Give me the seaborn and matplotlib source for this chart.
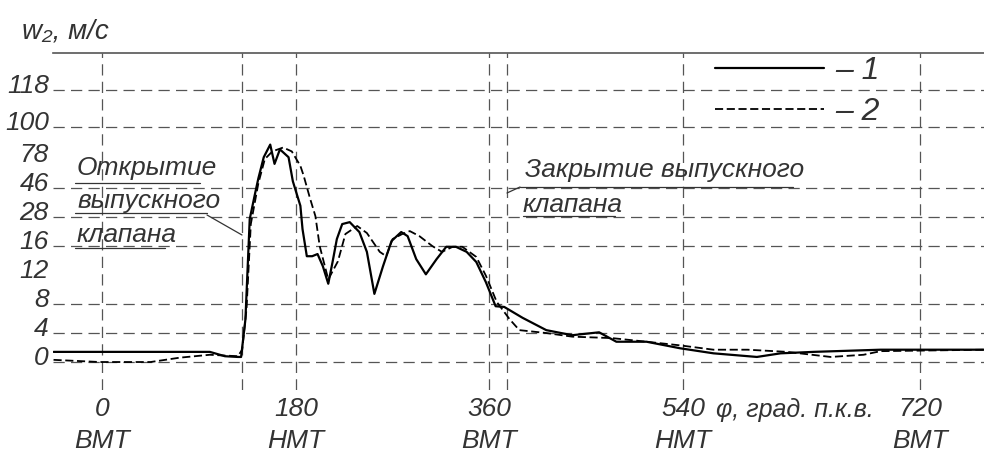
import numpy as np
import pandas as pd
import seaborn as sns
import matplotlib.pyplot as plt
from matplotlib.lines import Line2D
from matplotlib import transforms

# crank angle (deg) and exhaust gas velocity w2 (m/s)
angle_1 = [-45, -2, 100, 114, 126, 129, 133, 137, 142, 145, 150, 156, 160, 165, 173,
           177, 181, 184, 186, 190, 195, 200, 205, 210, 214, 218, 223, 230, 239, 246,
           253, 261, 269, 278, 284, 292, 301, 311, 320, 329, 339, 348, 357, 366, 374,
           391, 413, 437, 462, 478, 506, 537, 563, 596, 614, 639, 690, 769]
w_1 = [1.4, 1.4, 1.4, 0.8, 0.7, 0.7, 5.9, 27.2, 42.8, 56.7, 79.3, 88, 72.7, 84.7, 79.3,
       53.5, 41.5, 35, 23, 14.6, 14.6, 14.9, 13.2, 10.8, 13.8, 18.9, 25.1, 25.9, 21.8, 15.2,
       9.4, 13.2, 18.1, 21.8, 20.1, 14.2, 12.1, 14.2, 15.9, 15.9, 15.2, 13.8, 11.0, 7.7, 7.6,
       6.1, 4.4, 3.7, 4.1, 2.8, 2.8, 1.9, 1.2, 0.7, 1.2, 1.4, 1.7, 1.7]

angle_2 = [-45, -2, 45, 72, 100, 126, 130, 134, 138, 145, 151, 158, 168, 176, 184,
           187, 193, 198, 202, 210, 219, 226, 237, 246, 258, 264, 270, 279, 286, 295,
           307, 316, 326, 335, 348, 357, 367, 379, 388, 413, 437, 474, 506, 537, 563,
           589, 619, 652, 677, 690, 769]
w_2 = [0.3, 0, 0, 0.6, 1.0, 0.8, 1.7, 7.3, 25.1, 51.3, 78, 83.3, 86, 83.3, 70.5,
       59.9, 39.6, 28.6, 16, 11.4, 13.9, 21, 24.3, 21.4, 15.2, 14.6, 18.9, 21, 22.2, 20.1,
       16, 15.2, 15.9, 15.9, 14.5, 11.9, 8.3, 5.9, 4.4, 4.0, 3.5, 3.3, 2.8, 2.3, 1.7,
       1.7, 1.4, 0.7, 1.0, 1.5, 1.7]

x_ticks = [0, 180, 360, 540, 720]
x_tick_labels = ['0\nВМТ', '180\nНМТ', '360\nВМТ', '540\nНМТ', '720\nВМТ']
y_ticks = [0, 4, 8, 12, 16, 28, 46, 78, 100, 118]
grid_w = [0, 4, 8, 16, 28, 46, 100, 118]
grid_angle = [0, 130, 180, 360, 377, 540, 720]   # 130 - exhaust opens, 377 - closes

# the drawing has hand-made uneven scales, so map them piecewise
X_ANCH = [-1000, 0, 180, 360, 540, 720, 2000]
X_POS = [-5.556, 0, 1, 1.995, 2.995, 4.216, 4.216 + 1280 / 180 * 1.222]
Y_ANCH = [-100, 0, 4, 8, 12, 16, 28, 46, 78, 100, 118, 1000]
Y_POS = [-25, 0, 1, 2, 3, 4, 5, 6, 7, 8.1, 9.4, 9.4 + 882 / 32 * 1.3]


def x_fwd(v):
    return np.interp(v, X_ANCH, X_POS)


def x_inv(p):
    return np.interp(p, X_POS, X_ANCH)


def y_fwd(v):
    return np.interp(v, Y_ANCH, Y_POS)


def y_inv(p):
    return np.interp(p, Y_POS, Y_ANCH)


sns.set_theme(style='white')
plt.rcParams['font.family'] = ['Liberation Sans', 'DejaVu Sans']
plt.rcParams['font.style'] = 'italic'

W, H = 984, 461
TXT = '#333333'
GRID = '#555555'


def fx(px):
    return px / W


def fy(py):
    return 1 - py / H


fig = plt.figure(figsize=(W / 100, H / 100), dpi=100)
ax = fig.add_axes([fx(53), fy(390), 1 - fx(53), (390 - 53) / H])

df1 = pd.DataFrame({'angle': angle_1, 'w': w_1})
df2 = pd.DataFrame({'angle': angle_2, 'w': w_2})
sns.lineplot(data=df1, x='angle', y='w', color='black', lw=1.6, ax=ax)
sns.lineplot(data=df2, x='angle', y='w', color='black', lw=1.3, ax=ax)
ax.lines[1].set_dashes((4.5, 2))
handles = [ax.lines[0], ax.lines[1]]

ax.set_xscale('function', functions=(x_fwd, x_inv))
ax.set_yscale('function', functions=(y_fwd, y_inv))
ax.set_xlim(-45.5, 768.5)
ax.set_ylim(-3.86, 149)

for a in grid_angle:
    ax.axvline(a, color=GRID, lw=0.9, dashes=(9, 5), zorder=0)
for w in grid_w:
    ax.axhline(w, color=GRID, lw=0.9, dashes=(9, 5), zorder=0)

for s in ['left', 'right', 'bottom']:
    ax.spines[s].set_visible(False)
ax.spines['top'].set_color(GRID)
ax.spines['top'].set_linewidth(1.2)

ax.set_xticks(x_ticks)
ax.set_xticklabels(x_tick_labels, fontsize=19, color=TXT, linespacing=1.4)
ax.set_yticks(y_ticks)
ax.set_yticklabels([str(v) for v in y_ticks], fontsize=19, color=TXT)
ax.minorticks_off()
ax.tick_params(axis='x', length=0, pad=5)
ax.tick_params(axis='y', length=0, pad=3)
ax.set_xlabel('')
ax.set_ylabel('')
shift = transforms.ScaledTranslation(0, 4.5 / 72, fig.dpi_scale_trans)
for lab in ax.get_yticklabels():
    lab.set_transform(lab.get_transform() + shift)

ax.legend(handles, ['– 1', '– 2'], loc='upper left',
          bbox_to_anchor=(fx(715), fy(56)), bbox_transform=fig.transFigure,
          frameon=False, fontsize=23, handlelength=3.4, handletextpad=0.35,
          borderpad=0, borderaxespad=0, labelspacing=0.35, labelcolor=TXT)

# axis captions
fig.text(fx(22), fy(32), 'w₂, м/с', fontsize=20, color=TXT, va='center', ha='left')
fig.text(fx(716), fy(410), 'φ, град. п.к.в.', fontsize=18, color=TXT, va='center', ha='left')

# valve notes with underlines and leaders
notes = [('Открытие', 77, 168), ('выпускного', 77, 201), ('клапана', 77, 235),
         ('Закрытие выпускного', 525, 170), ('клапана', 523, 205)]
for txt, x0, y0 in notes:
    fig.text(fx(x0), fy(y0), txt, fontsize=19, color=TXT, va='center', ha='left')

marks = [((75, 200), (183, 183)), ((75, 207), (213, 213)), ((75, 165), (248, 248)),
         ((207, 242), (215, 235)),
         ((520, 793), (187, 187)), ((507, 520), (193, 187)), ((523, 615), (216, 216))]
for (xa, xb), (ya, yb) in marks:
    fig.add_artist(Line2D([fx(xa), fx(xb)], [fy(ya), fy(yb)], color=TXT, lw=0.9,
                          transform=fig.transFigure))

plt.savefig('out.png', dpi=100)
